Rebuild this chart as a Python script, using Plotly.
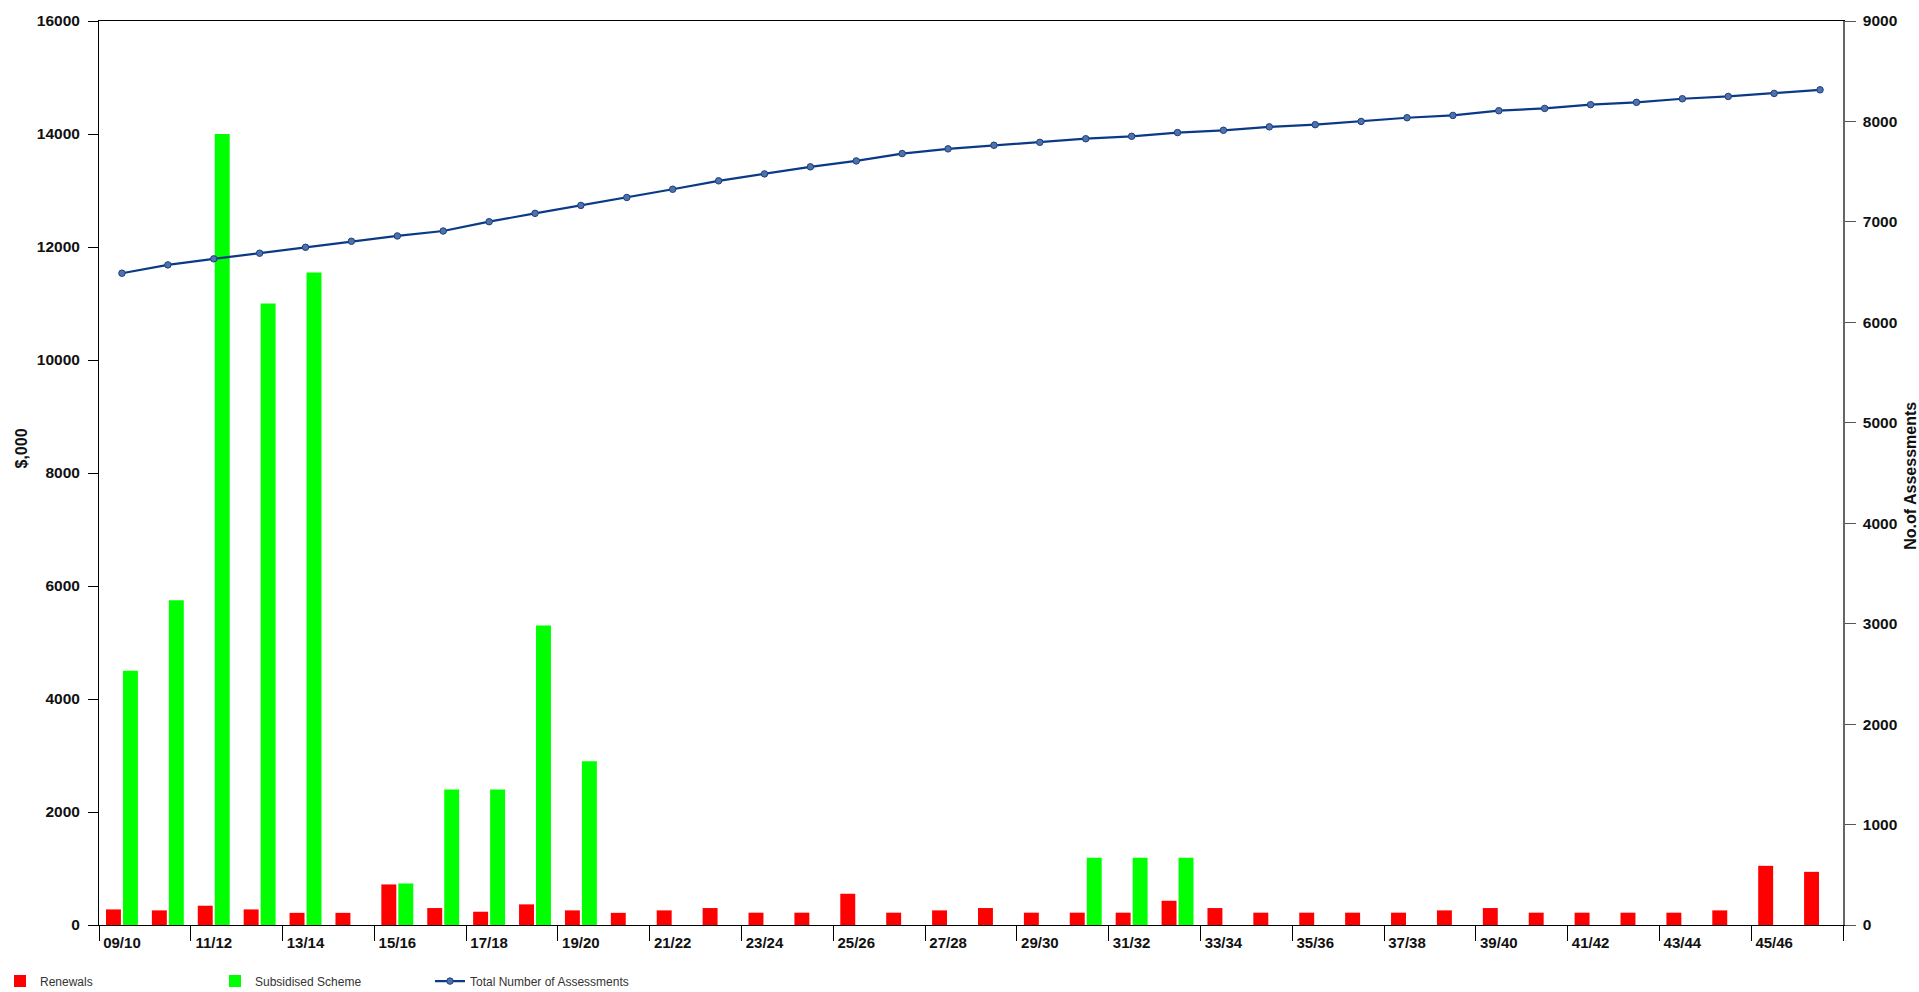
import plotly.graph_objects as go

categories = ["09/10", "10/11", "11/12", "12/13", "13/14", "14/15", "15/16", "16/17",
              "17/18", "18/19", "19/20", "20/21", "21/22", "22/23", "23/24", "24/25",
              "25/26", "26/27", "27/28", "28/29", "29/30", "30/31", "31/32", "32/33",
              "33/34", "34/35", "35/36", "36/37", "37/38", "38/39", "39/40", "40/41",
              "41/42", "42/43", "43/44", "44/45", "45/46", "46/47"]

renewals = [276, 259, 341, 276, 215, 215, 718, 300, 235, 365, 259, 215, 259, 300,
            218, 218, 553, 218, 259, 300, 218, 218, 218, 429, 300, 218, 218, 218,
            218, 259, 300, 218, 218, 218, 218, 259, 1047, 941]

subsidised = [4500, 5750, 14000, 11000, 11550, 0, 735, 2400, 2400, 5300, 2900, 0,
              0, 0, 0, 0, 0, 0, 0, 0, 0, 1190, 1190, 1190, 0, 0, 0, 0,
              0, 0, 0, 0, 0, 0, 0, 0, 0, 0]

assessments = [6489, 6572, 6632, 6688, 6747, 6807, 6860, 6909, 7002, 7085, 7164, 7243,
               7325, 7409, 7478, 7548, 7607, 7680, 7727, 7763, 7792, 7828, 7852, 7889,
               7912, 7946, 7968, 8000, 8037, 8060, 8107, 8130, 8167, 8190, 8226, 8249,
               8279, 8315]

left_ticks = [0, 2000, 4000, 6000, 8000, 10000, 12000, 14000, 16000]
right_ticks = [0, 1000, 2000, 3000, 4000, 5000, 6000, 7000, 8000, 9000]

idx = list(range(len(categories)))
label_pos = idx[::2]
label_text = categories[::2]
boundary_pos = [i - 0.5 for i in range(0, len(categories) + 1, 2)]

FONT = "Liberation Sans, Arial, sans-serif"

fig = go.Figure()
fig.add_trace(go.Bar(x=idx, y=renewals, name="Renewals",
                     marker=dict(color="#FF0000", line=dict(width=0))))
fig.add_trace(go.Bar(x=idx, y=subsidised, name="Subsidised Scheme",
                     marker=dict(color="#00FF00", line=dict(width=0))))
fig.add_trace(go.Scatter(x=idx, y=assessments, name="Total Number of Assessments",
                         mode="lines+markers", xaxis="x2", yaxis="y2",
                         line=dict(color="#0a3a87", width=2.2),
                         marker=dict(symbol="circle", size=6.5, color="#4f72aa",
                                     line=dict(color="#1d3f80", width=1))))

fig.update_layout(
    width=1919, height=992,
    margin=dict(l=99, r=76, t=18, b=67),
    paper_bgcolor="white", plot_bgcolor="white",
    barmode="group", bargap=0.26, bargroupgap=0.12,
    font=dict(family=FONT, color="#111111"),
    xaxis=dict(range=[-0.5, len(categories) - 0.5], tickmode="array",
               tickvals=label_pos, ticktext=label_text, ticks="",
               showgrid=False, zeroline=False, showline=True, linecolor="black",
               linewidth=1, mirror=True, ticklabelstandoff=4,
               tickfont=dict(family=FONT, size=15, color="#111111", weight="bold")),
    xaxis2=dict(range=[-0.5, len(categories) - 0.5], overlaying="x", anchor="y2",
                tickmode="array", tickvals=boundary_pos, ticks="outside",
                ticklen=15, tickcolor="black", tickwidth=1, showticklabels=False,
                showgrid=False, zeroline=False, showline=False),
    yaxis=dict(range=[0, 16000], tickmode="array", tickvals=left_ticks,
               ticktext=[str(v) for v in left_ticks],
               ticks="outside", ticklen=10, tickcolor="black", showline=True,
               linecolor="black", linewidth=1, showgrid=False, zeroline=False,
               ticklabelstandoff=5,
               tickfont=dict(family=FONT, size=15.5, color="#111111", weight="bold")),
    yaxis2=dict(range=[0, 9000], overlaying="y", side="right", anchor="x2",
                tickmode="array", tickvals=right_ticks,
                ticktext=[str(v) for v in right_ticks], ticks="outside",
                ticklen=11, tickcolor="#555555", showline=True, linecolor="#666666",
                linewidth=1.5, showgrid=False, zeroline=False, ticklabelstandoff=4,
                tickfont=dict(family=FONT, size=15.5, color="#111111", weight="bold")),
    legend=dict(orientation="h", xref="container", yref="container",
                x=-0.006, y=0.011, xanchor="left", yanchor="middle",
                entrywidth=170, entrywidthmode="pixels",
                font=dict(family=FONT, size=12, color="#333333"),
                bgcolor="rgba(0,0,0,0)"),
    showlegend=True,
    annotations=[
        dict(text="<b>$,000</b>", xref="paper", yref="paper", x=-0.0442, y=0.527,
             textangle=-90, showarrow=False, xanchor="center", yanchor="middle",
             font=dict(family=FONT, size=16, color="#111111")),
        dict(text="<b>No.of Assessments</b>", xref="paper", yref="paper",
             x=1.039, y=0.497, textangle=-90, showarrow=False,
             xanchor="center", yanchor="middle",
             font=dict(family=FONT, size=16, color="#111111")),
    ],
)

fig.write_html("out.html", config={"displayModeBar": False},
               post_script="document.body.style.margin='0';"
                           "document.body.style.overflow='hidden';")
